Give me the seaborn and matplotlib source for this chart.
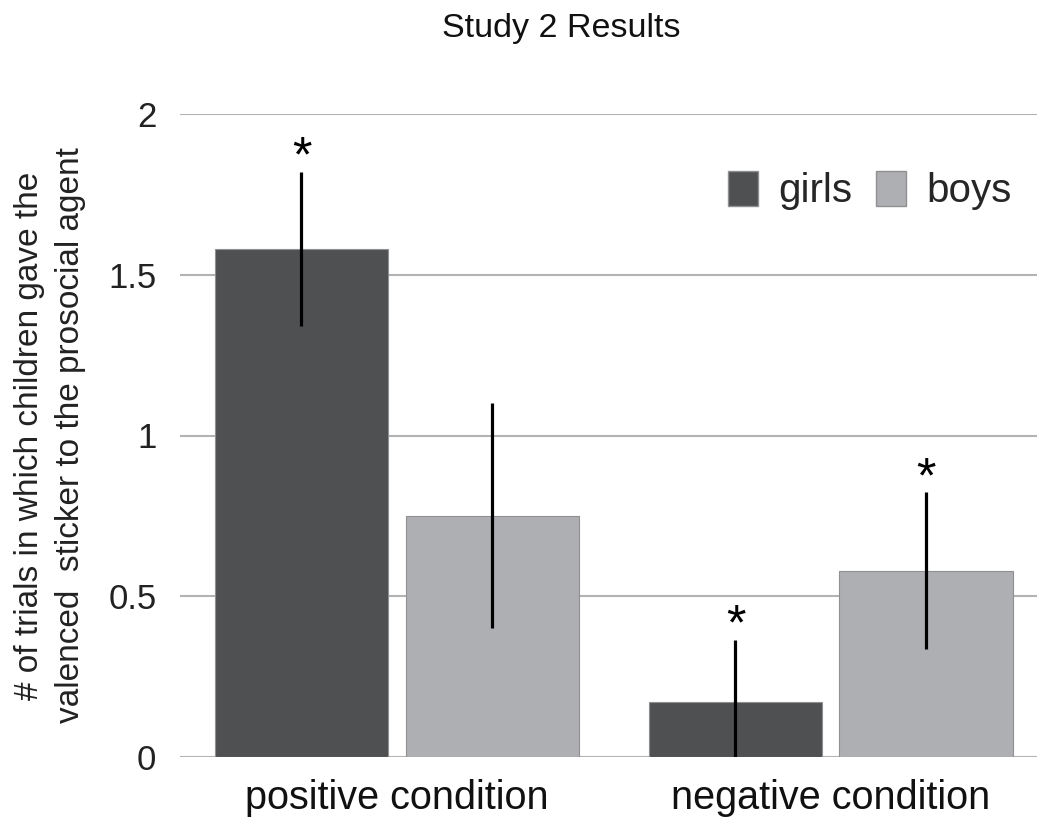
import matplotlib
matplotlib.use("Agg")
import matplotlib.pyplot as plt
import seaborn as sns
import pandas as pd
import numpy as np
from matplotlib.patches import Patch

# ---- data ----
conditions = ["positive condition", "negative condition"]
genders = ["girls", "boys"]
girls_means = [1.58, 0.17]
boys_means = [0.75, 0.58]
girls_err = [0.24, 0.195]
boys_err = [0.35, 0.243]
girls_sig = [True, True]
boys_sig = [False, True]

title = "Study 2 Results"
ylabel = "# of trials in which children gave the\nvalenced  sticker to the prosocial agent"
yticks = [0, 0.5, 1, 1.5, 2]
ytick_labels = ["0", "0.5", "1", "1.5", "2"]

df = pd.DataFrame({
    "condition": conditions * 2,
    "gender": ["girls"] * 2 + ["boys"] * 2,
    "value": girls_means + boys_means,
    "err": girls_err + boys_err,
    "sig": girls_sig + boys_sig,
})

sns.set_theme(style="white")
plt.rcParams['font.family'] = ['Liberation Sans', 'DejaVu Sans']

W, H = 1037, 823
fig = plt.figure(figsize=(W / 100, H / 100), dpi=100)
ax = fig.add_axes([180 / W, 1 - 757 / H, (W - 180) / W, (757 - 114) / H])

palette = {"girls": "#4f5052", "boys": "#aeafb2"}
sns.barplot(data=df, x="condition", y="value", hue="gender", order=conditions,
            hue_order=genders, palette=palette, errorbar=None, width=0.88,
            gap=0.09, saturation=1, ax=ax, legend=False, zorder=3,
            edgecolor="#909093", linewidth=0.8)

# error bars and significance stars
ordered = df.set_index(["gender", "condition"]).loc[
    [(g, c) for g in genders for c in conditions]].reset_index()
for patch, (_, row) in zip(ax.patches, ordered.iterrows()):
    cx = patch.get_x() + patch.get_width() / 2
    h = patch.get_height()
    lo = max(h - row["err"], 0)
    hi = h + row["err"]
    ax.plot([cx, cx], [lo, hi], color="black", lw=2.3, zorder=4, solid_capstyle="butt")
    if row["sig"]:
        ax.annotate("*", (cx, hi), xytext=(0, -7), textcoords="offset points",
                    ha="center", va="bottom", fontsize=36, color="black")

ax.set_ylim(0, 2)
ax.set_xlim(-0.5, 1.475)
ax.set_yticks(yticks)
ax.set_yticklabels(ytick_labels, fontsize=25, color="#222222")
ax.yaxis.grid(True, color="#b3b3b3", lw=1.5, zorder=0)
ax.set_axisbelow(True)
for s in ax.spines.values():
    s.set_visible(False)
ax.tick_params(axis="both", length=0)
ax.tick_params(axis="y", pad=17)
ax.tick_params(axis="x", pad=16)
ax.set_xticks([0, 1])
ax.set_xticklabels(conditions, fontsize=28.5, color="#111111")
ax.set_xlabel("")
ax.set_ylabel(ylabel, fontsize=24, color="#222222", labelpad=16, linespacing=1.4)

# legend
handles = [Patch(facecolor=palette[g], edgecolor="#909093", label=g) for g in genders]
ax.legend(handles=handles, loc="upper right", bbox_to_anchor=(1.013, 0.968), ncol=2,
          frameon=False, fontsize=29, handlelength=0.75, handleheight=0.95,
          handletextpad=0.5, columnspacing=0.6)

fig.text(561 / W, 1 - 29 / H, title, ha="center", va="center", fontsize=24.5, color="#111111")

fig.savefig("out.png", dpi=100)
